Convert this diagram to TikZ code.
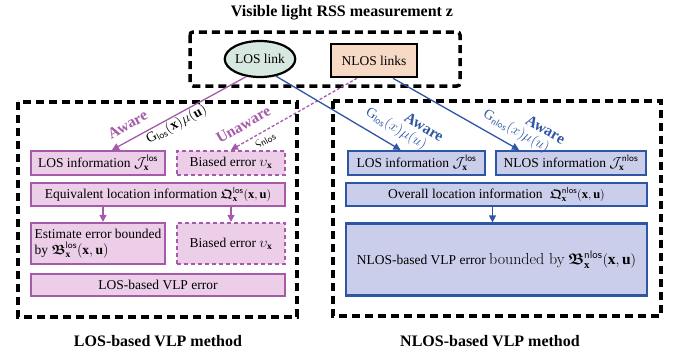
\documentclass[tikz,border=0pt]{standalone}
\usepackage{amsmath,amssymb,bm}
\usepackage{fontspec}
\setmainfont{Liberation Serif}
\newfontfamily\lmfont{Latin Modern Roman}
\usetikzlibrary{arrows.meta,shapes.geometric}
\definecolor{losedge}{RGB}{166,90,170}
\definecolor{losfill}{RGB}{236,206,233}
\definecolor{nlosedge}{RGB}{47,85,165}
\definecolor{nlosfill}{RGB}{202,206,234}
\definecolor{linkfill}{RGB}{214,232,224}
\definecolor{nlinkfill}{RGB}{246,218,198}
\newcommand{\smath}[1]{{\fontsize{12.5}{15}\selectfont$#1$}}
\begin{document}
\begin{tikzpicture}
[x=1pt,y=-1pt
,pbox/.style={draw=losedge,fill=losfill,line width=2.2pt,inner sep=2pt,font=\fontsize{13.5}{16}\selectfont}
,pdash/.style={pbox,dash pattern=on 4pt off 3pt}
,bbox/.style={draw=nlosedge,fill=nlosfill,line width=2.2pt,inner sep=2pt,font=\fontsize{13.5}{16}\selectfont}
,dframe/.style={draw=black,line width=3.5pt,dash pattern=on 8pt off 5pt}
,parr/.style={draw=losedge,line width=1.3pt,arrows={-Triangle[length=7pt,width=7pt]}}
,barr/.style={draw=nlosedge,line width=1.3pt,arrows={-Triangle[length=7pt,width=7pt]}}
,aw/.style={font=\fontsize{15.5}{17}\selectfont\bfseries,inner sep=1pt}
,gl/.style={font=\fontsize{14}{16}\selectfont,inner sep=1pt}
,capt/.style={font=\fontsize{16}{19}\selectfont\bfseries}]
\useasboundingbox (0,0) rectangle (677,356);
% frames
\draw[dframe,rounded corners=3pt] (190,32) rectangle (460,86);
\draw[dframe] (18,102) rectangle (297,317);
\draw[dframe] (333,101) rectangle (661,316);
\node[capt] (title) at (342,13) {Visible light RSS measurement $\mathbf{z}$};
\node[capt] (losm) at (158,341) {LOS-based VLP method};
\node[capt] (nlosm) at (490,341) {NLOS-based VLP method};
% links
\node[ellipse,draw,line width=2.2pt,fill=linkfill,minimum width=68,minimum height=36,inner sep=0pt,font=\fontsize{13.5}{16}\selectfont] (los) at (260,59) {LOS link};
\node[rectangle,draw,line width=2.6pt,fill=nlinkfill,minimum width=86,minimum height=33,font=\fontsize{13.5}{16}\selectfont] (nlos) at (374,60.5) {NLOS links};
% LOS-based method
\node[pbox,minimum width=134,minimum height=24] (losinfoL) at (98,163) {LOS information $\mathcal{J}_{\mathbf{x}}^{\textsf{los}}$};
\node[pdash,minimum width=108,minimum height=24] (biasL) at (231,163) {Biased error $\upsilon_{\mathbf{x}}$};
\node[pbox,minimum width=254,minimum height=23] (equivL) at (158,194.5) {Equivalent location information \smath{\bm{\mathfrak{Q}}_{\mathbf{x}}^{\textsf{los}}(\mathbf{x},\mathbf{u})}};
\node[pbox,minimum width=134,minimum height=41,align=left] (estL) at (98,243.5) {Estimate error bounded\\by $\bm{\mathfrak{B}}_{\mathbf{x}}^{\textsf{los}}(\mathbf{x},\mathbf{u})$};
\node[pdash,minimum width=108,minimum height=41] (bias2L) at (231,243.5) {Biased error $\upsilon_{\mathbf{x}}$};
\node[pbox,minimum width=254,minimum height=22] (vlpL) at (158,285) {LOS-based VLP error};
% NLOS-based method
\node[bbox,minimum width=137,minimum height=24] (losinfoR) at (416.5,163) {LOS information $\mathcal{J}_{\mathbf{x}}^{\textsf{los}}$};
\node[bbox,minimum width=150,minimum height=24] (nlosinfoR) at (571,163) {NLOS information $\mathcal{J}_{\mathbf{x}}^{\textsf{nlos}}$};
\node[bbox,minimum width=301,minimum height=23] (overallR) at (496.5,194.5) {Overall location information\; \smath{\bm{\mathfrak{Q}}_{\mathbf{x}}^{\textsf{nlos}}(\mathbf{x},\mathbf{u})}};
\node[bbox,minimum width=301,minimum height=72] (vlpR) at (496.5,259.5) {NLOS-based VLP error {\lmfont\fontsize{16}{18}\selectfont bounded by} {\fontsize{15.5}{18}\selectfont$\bm{\mathfrak{B}}_{\mathbf{x}}^{\textsf{nlos}}(\mathbf{x},\mathbf{u})$}};
% connectors
\draw[parr] (los.232) -- ([xshift=14]losinfoL.north)
  node[pos=0.83,sloped,above=8pt,aw,text=losedge] {Aware}
  node[pos=0.55,sloped,below=0pt,gl] {$\mathrm{G}_{\textsf{los}}(\mathbf{x})\mu(\mathbf{u})$};
\draw[parr,dash pattern=on 3pt off 2pt] ([xshift=-17]nlos.south) -- (biasL.north)
  node[pos=0.84,sloped,above=9pt,aw,text=losedge] {Unaware}
  node[pos=0.76,sloped,below=3pt,gl] {$\varsigma_{\textsf{nlos}}$};
\draw[barr] (los.313) -- ([xshift=-16]losinfoR.north)
  node[pos=0.9,sloped,above=7pt,gl,text=nlosedge] {$\mathrm{G}_{\textsf{los}}(x)\mu(u)$}
  node[pos=1.06,sloped,above=25pt,aw,text=nlosedge] {Aware};
\draw[barr] ([xshift=19]nlos.south) -- ([xshift=-52]nlosinfoR.north)
  node[pos=0.92,sloped,above=6pt,gl,text=nlosedge] {$\mathrm{G}_{\textsf{nlos}}(x)\mu(u)$}
  node[pos=1.09,sloped,above=24pt,aw,text=nlosedge] {Aware};
\draw[parr] ([xshift=5]estL.north |- equivL.south) -- ([xshift=5]estL.north);
\draw[parr] (bias2L.north |- equivL.south) -- (bias2L.north);
\draw[barr] ([xshift=-4]vlpR.north |- overallR.south) -- ([xshift=-4]vlpR.north);
\end{tikzpicture}
\end{document}
